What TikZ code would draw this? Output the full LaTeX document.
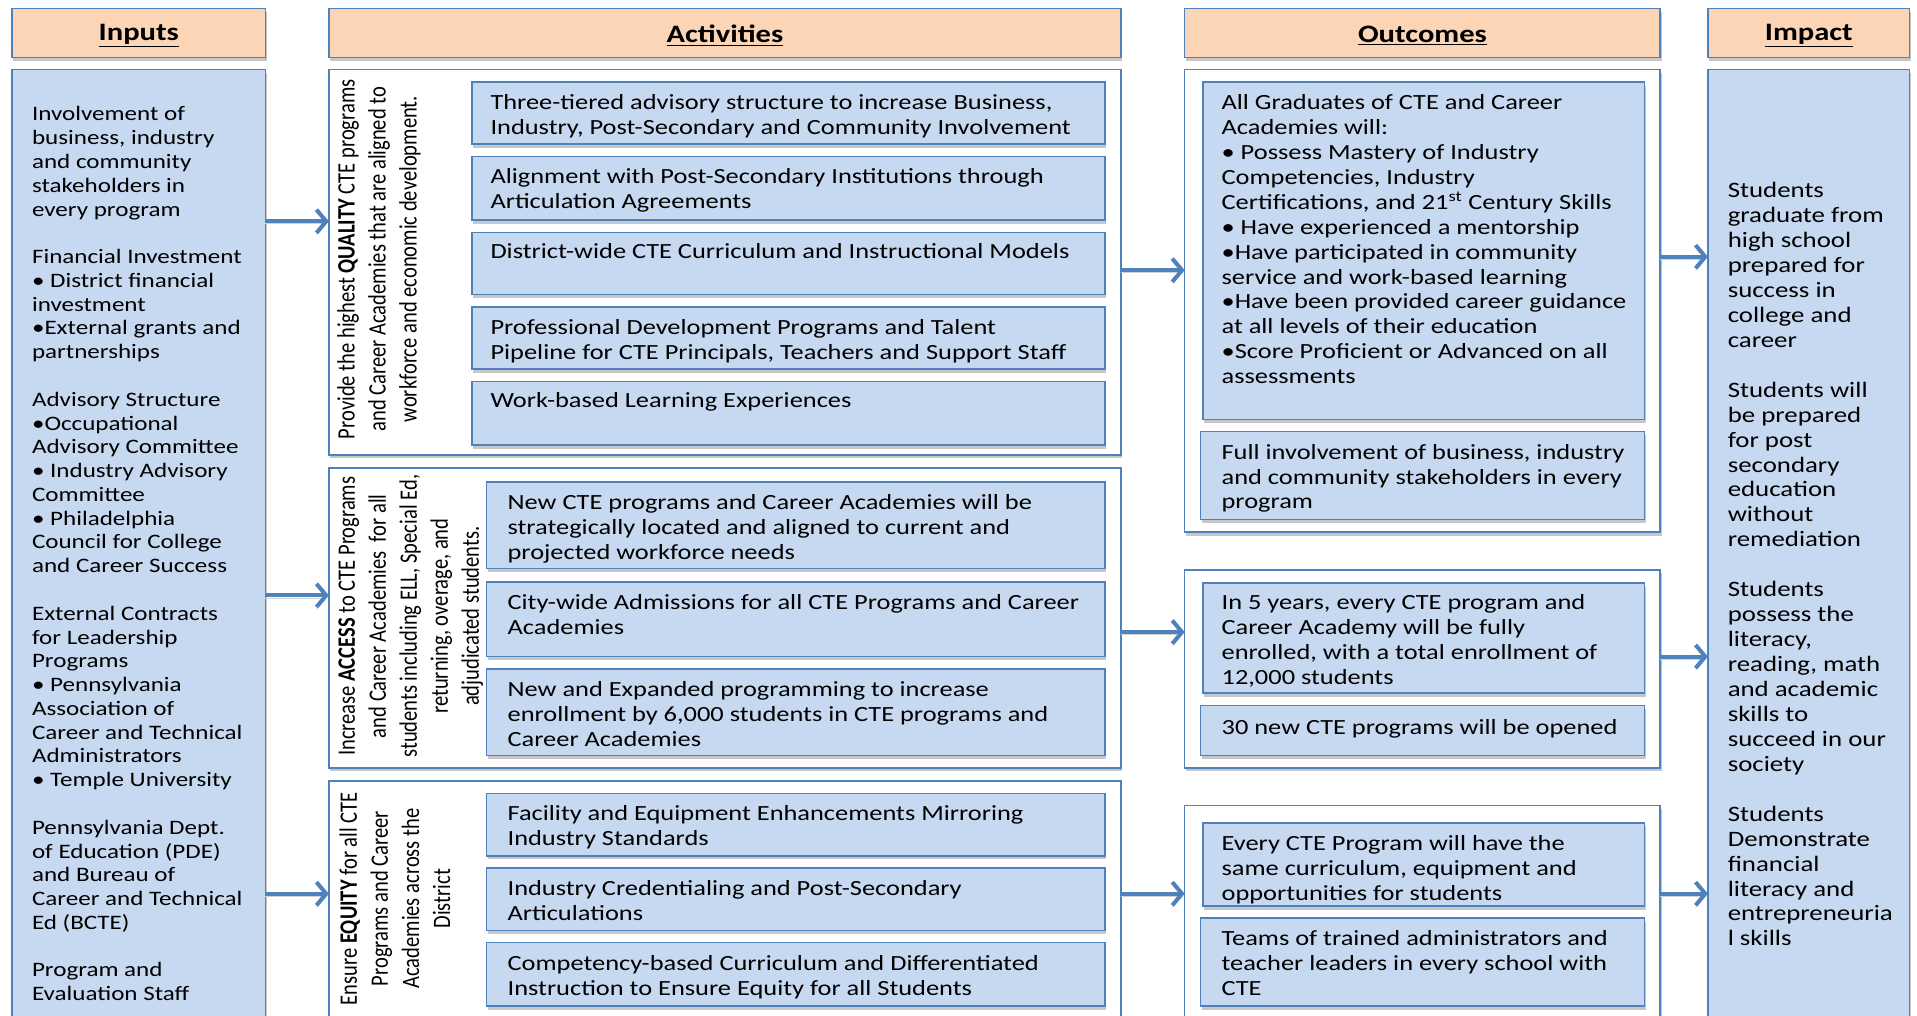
\documentclass[tikz,border=0pt]{standalone}
\usepackage{fontspec}
\setmainfont[FakeStretch=1.22]{Carlito}
\newfontfamily\vfont{Carlito}
\usetikzlibrary{arrows.meta,shadows}
\definecolor{peach}{HTML}{FBD5B5}
\definecolor{lblue}{HTML}{C6D9F1}
\definecolor{bord}{HTML}{4F81BD}
\tikzset{
 boxbase/.style={draw=bord, line width=1.3pt, inner sep=0pt, outer sep=0pt, anchor=north west,
   drop shadow={shadow xshift=1pt, shadow yshift=-3pt, opacity=0.22, fill=black}},
 hdr/.style={boxbase, fill=peach},
 bluebox/.style={boxbase, fill=lblue},
 whitebox/.style={boxbase, fill=white},
 txt/.style={anchor=north west, align=left, inner sep=0pt, font=\fontsize{17.7}{20.4}\selectfont},
 imptxt/.style={txt, font=\fontsize{18}{20.4}\selectfont},
 inptxt/.style={txt, font=\fontsize{16.8}{19.45}\selectfont},
 vtxt/.style={xscale=1.22, rotate=90, align=center, inner sep=0pt, font=\vfont\fontsize{16.8}{20.8}\selectfont},
 hdrtxt/.style={inner sep=0pt, font=\fontsize{20.5}{24}\selectfont\bfseries},
 flow/.style={draw=bord, line width=3.3pt, -{Straight Barb[length=8pt,width=19pt,line width=3.3pt]},
   preaction={draw=black!18, transform canvas={yshift=-2pt}}},
}
\newcommand\bx[6]{\node[#6, minimum width={#4-#2}, minimum height={#5-#3}] (#1) at (#2,#3) {};}
\begin{document}
\begin{tikzpicture}[x=1pt,y=-1pt]
\useasboundingbox (0,0) rectangle (1568,831);
\clip (0,0) rectangle (1568,831);
% headers
\bx{hin}{10}{7}{217}{47}{hdr}
\bx{hac}{269}{7}{917}{47}{hdr}
\bx{hou}{969}{7}{1358}{47}{hdr}
\bx{him}{1397}{7}{1562}{47}{hdr}
\node[hdrtxt] (thin) at ([yshift=-2pt]hin.center) {\underline{Inputs}};
\node[hdrtxt] (thac) at ([yshift=-2pt]hac.center) {\underline{Activities}};
\node[hdrtxt] (thou) at ([yshift=-2pt]hou.center) {\underline{Outcomes}};
\node[hdrtxt] (thim) at ([yshift=-2pt]him.center) {\underline{Impact}};
% inputs
\bx{inp}{10}{57}{217}{850}{bluebox}
\node[inptxt] (tinp) at (26,87) {Involvement of\\business, industry\\and community\\stakeholders in\\every program\\[19.45pt]
Financial Investment\\• District financial\\investment\\•External grants and\\partnerships\\[19.45pt]
Advisory Structure\\•Occupational\\Advisory Committee\\• Industry Advisory\\Committee\\• Philadelphia\\Council for College\\and Career Success\\[19.45pt]
External Contracts\\for Leadership\\Programs\\• Pennsylvania\\Association of\\Career and Technical\\Administrators\\• Temple University\\[19.45pt]
Pennsylvania Dept.\\of Education (PDE)\\and Bureau of\\Career and Technical\\Ed (BCTE)\\[19.45pt]
Program and\\Evaluation Staff};
% activities
\bx{a1}{269}{57}{917}{372}{whitebox}
\bx{a2}{269}{383}{917}{628}{whitebox}
\bx{a3}{269}{639}{917}{850}{whitebox}
\node[vtxt] (va1) at (310,212) {Provide the highest {\bfseries QUALITY} CTE programs\\and Career Academies that are aligned to\\workforce and economic development.};
\node[vtxt] (va2) at (336,504) {Increase {\bfseries ACCESS} to CTE Programs\\and Career Academies~ for all\\students including ELL, Special Ed,\\returning, overage, and\\adjudicated students.};
\node[vtxt] (va3) at (323,735) {Ensure {\bfseries EQUITY} for all CTE\\Programs and Career\\Academies across the\\District};
\bx{s11}{386}{67}{904}{118}{bluebox}
\bx{s12}{386}{128}{904}{180}{bluebox}
\bx{s13}{386}{190}{904}{241}{bluebox}
\bx{s14}{386}{251}{904}{302}{bluebox}
\bx{s15}{386}{312}{904}{364}{bluebox}
\node[txt] (t11) at (401,77) {Three-tiered advisory structure to increase Business,\\Industry, Post-Secondary and Community Involvement};
\node[txt] (t12) at (401,138) {Alignment with Post-Secondary Institutions through\\Articulation Agreements};
\node[txt] (t13) at (401,199) {District-wide CTE Curriculum and Instructional Models};
\node[txt] (t14) at (401,261) {Professional Development Programs and Talent\\Pipeline for CTE Principals, Teachers and Support Staff};
\node[txt] (t15) at (401,321) {Work-based Learning Experiences};
\bx{s21}{398}{394}{904}{465}{bluebox}
\bx{s22}{398}{476}{904}{537}{bluebox}
\bx{s23}{398}{547}{904}{618}{bluebox}
\node[txt] (t21) at (415,404) {New CTE programs and Career Academies will be\\strategically located and aligned to current and\\projected workforce needs};
\node[txt] (t22) at (415,486) {City-wide Admissions for all CTE Programs and Career\\Academies};
\node[txt] (t23) at (415,557) {New and Expanded programming to increase\\enrollment by 6,000 students in CTE programs and\\Career Academies};
\bx{s31}{398}{649}{904}{700}{bluebox}
\bx{s32}{398}{710}{904}{761}{bluebox}
\bx{s33}{398}{771}{904}{823}{bluebox}
\node[txt] (t31) at (415,659) {Facility and Equipment Enhancements Mirroring\\Industry Standards};
\node[txt] (t32) at (415,720) {Industry Credentialing and Post-Secondary\\Articulations};
\node[txt] (t33) at (415,781) {Competency-based Curriculum and Differentiated\\Instruction to Ensure Equity for all Students};
% outcomes
\bx{o1}{969}{57}{1358}{435}{whitebox}
\bx{o2}{969}{466}{1358}{628}{whitebox}
\bx{o3}{969}{659}{1358}{850}{whitebox}
\bx{u11}{984}{67}{1345}{343}{bluebox}
\bx{u12}{982}{353}{1345}{425}{bluebox}
\bx{u21}{984}{477}{1345}{567}{bluebox}
\bx{u22}{982}{577}{1345}{618}{bluebox}
\bx{u31}{984}{673}{1345}{741}{bluebox}
\bx{u32}{982}{751}{1345}{823}{bluebox}
\node[txt] (tu11) at (999,77) {All Graduates of CTE and Career\\Academies will:\\• Possess Mastery of Industry\\Competencies, Industry\\Certifications, and 21\textsuperscript{st} Century Skills\\• Have experienced a mentorship\\•Have participated in community\\service and work-based learning\\•Have been provided career guidance\\at all levels of their education\\•Score Proficient or Advanced on all\\assessments};
\node[txt] (tu12) at (999,363) {Full involvement of business, industry\\and community stakeholders in every\\program};
\node[txt] (tu21) at (999,486) {In 5 years, every CTE program and\\Career Academy will be fully\\enrolled, with a total enrollment of\\12,000 students};
\node[txt] (tu22) at (999,588) {30 new CTE programs will be opened};
\node[txt] (tu31) at (999,683) {Every CTE Program will have the\\same curriculum, equipment and\\opportunities for students};
\node[txt] (tu32) at (999,761) {Teams of trained administrators and\\teacher leaders in every school with\\CTE};
% impact
\bx{imp}{1397}{57}{1562}{850}{bluebox}
\node[imptxt] (timp) at (1413,149) {Students\\graduate from\\high school\\prepared for\\success in\\college and\\career\\[20.4pt]
Students will\\be prepared\\for post\\secondary\\education\\without\\remediation\\[20.4pt]
Students\\possess the\\literacy,\\reading, math\\and academic\\skills to\\succeed in our\\society\\[20.4pt]
Students\\Demonstrate\\financial\\literacy and\\entrepreneuria\\l skills};
% arrows
\coordinate (r1) at (0,181);
\coordinate (r2) at (0,487);
\coordinate (r3) at (0,731);
\coordinate (q1) at (0,221);
\coordinate (q2) at (0,517);
\coordinate (p1) at (0,210);
\coordinate (p2) at (0,537);
\draw[flow] (inp.east |- r1) -- (a1.west |- r1);
\draw[flow] (inp.east |- r2) -- (a2.west |- r2);
\draw[flow] (inp.east |- r3) -- (a3.west |- r3);
\draw[flow] (a1.east |- q1) -- (o1.west |- q1);
\draw[flow] (a2.east |- q2) -- (o2.west |- q2);
\draw[flow] (a3.east |- r3) -- (o3.west |- r3);
\draw[flow] (o1.east |- p1) -- (imp.west |- p1);
\draw[flow] (o2.east |- p2) -- (imp.west |- p2);
\draw[flow] (o3.east |- r3) -- (imp.west |- r3);
\end{tikzpicture}
\end{document}
